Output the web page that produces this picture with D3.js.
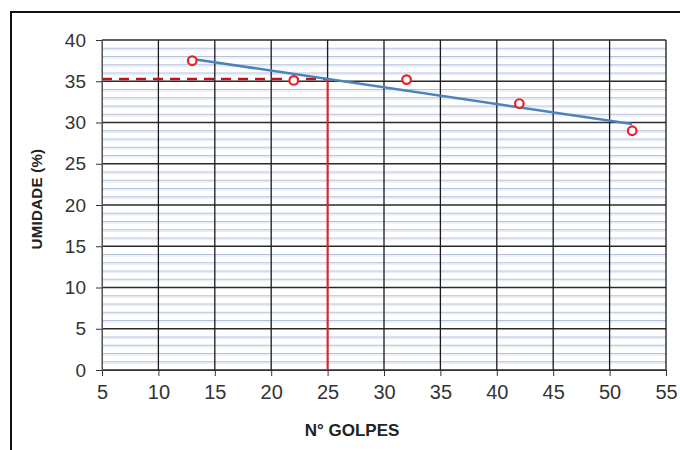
<!DOCTYPE html>
<head>
<meta charset="utf-8">
<style>
body { margin: 0; background: #fff; }
svg { display: block; }
.tick text { font-family: Arial, "Liberation Sans", sans-serif; fill: #333; }
.axisTitle { font-family: Arial, "Liberation Sans", sans-serif; font-weight: bold; fill: #222; }
</style>
</head>
<body>
<svg width="680" height="450"></svg>
<script src="https://d3js.org/d3.v7.min.js"></script>
<script>
// data
var golpes = [13, 22, 32, 42, 52];
var umidade = [37.5, 35.1, 35.2, 32.3, 29.0];
var xTicks = [5, 10, 15, 20, 25, 30, 35, 40, 45, 50, 55];
var yTicks = [0, 5, 10, 15, 20, 25, 30, 35, 40];
var nGolpesRef = 25;

var svg = d3.select("svg");

// frame round the figure
svg.append("rect")
    .attr("x", 11).attr("y", 12)
    .attr("width", 690).attr("height", 460)
    .attr("fill", "none").attr("stroke", "#111").attr("stroke-width", 2);

var x = d3.scaleLinear().domain([5, 55]).range([102, 666]);
var y = d3.scaleLinear().domain([0, 40]).range([370, 40]);

var g = svg.append("g");

// minor horizontal grid, every 1 %
var minor = d3.range(1, 40).filter(function(v) { return v % 5 !== 0; });
g.selectAll(".minorB").data(minor).enter().append("line")
    .attr("x1", x(5)).attr("x2", x(55))
    .attr("y1", function(d) { return y(d) + 1.5; }).attr("y2", function(d) { return y(d) + 1.5; })
    .attr("stroke", "#e6eef9").attr("stroke-width", 1.5);
g.selectAll(".minor").data(minor).enter().append("line")
    .attr("x1", x(5)).attr("x2", x(55))
    .attr("y1", function(d) { return y(d); }).attr("y2", function(d) { return y(d); })
    .attr("stroke", "#b6c1d6").attr("stroke-width", 1);

// major grid
g.selectAll(".hmaj").data(yTicks).enter().append("line")
    .attr("x1", x(5)).attr("x2", x(55))
    .attr("y1", function(d) { return y(d); }).attr("y2", function(d) { return y(d); })
    .attr("stroke", "#2a2a2a").attr("stroke-width", 1.3);
g.selectAll(".vmaj").data(xTicks).enter().append("line")
    .attr("x1", function(d) { return x(d); }).attr("x2", function(d) { return x(d); })
    .attr("y1", y(40)).attr("y2", y(0))
    .attr("stroke", function(d) { return d === 5 ? "#777" : "#1a1a1a"; }).attr("stroke-width", 1.3);

// axes
var xAxis = svg.append("g")
    .attr("transform", "translate(0," + y(0) + ")")
    .call(d3.axisBottom(x).tickValues(xTicks).tickSize(6).tickPadding(9));
xAxis.select(".domain").attr("stroke", "#333");
xAxis.selectAll(".tick line").attr("stroke", "#333");
xAxis.selectAll(".tick text").style("font-size", "20px");

var yAxis = svg.append("g")
    .attr("transform", "translate(" + x(5) + ",0)")
    .call(d3.axisLeft(y).tickValues(yTicks).tickSize(6).tickPadding(10));
yAxis.select(".domain").attr("stroke", "#555");
yAxis.selectAll(".tick line").attr("stroke", "#333");
yAxis.selectAll(".tick text").style("font-size", "19px");

// linear trend (least squares through the points)
var mx = d3.mean(golpes), my = d3.mean(umidade);
var sxy = d3.sum(golpes, function(v, i) { return (v - mx) * (umidade[i] - my); });
var sxx = d3.sum(golpes, function(v) { return (v - mx) * (v - mx); });
var slope = sxy / sxx, icpt = my - slope * mx;
function trend(v) { return icpt + slope * v; }

var wRef = trend(nGolpesRef);

// reference lines at 25 golpes
g.append("line")
    .attr("x1", x(nGolpesRef)).attr("x2", x(nGolpesRef))
    .attr("y1", y(wRef)).attr("y2", y(0))
    .attr("stroke", "#e8202a").attr("stroke-width", 2);
g.append("line")
    .attr("x1", x(5)).attr("x2", x(nGolpesRef))
    .attr("y1", y(wRef)).attr("y2", y(wRef))
    .attr("stroke", "#c8101c").attr("stroke-width", 2.5)
    .attr("stroke-dasharray", "10,7");

var ext = d3.extent(golpes);
g.append("line")
    .attr("x1", x(ext[0])).attr("x2", x(ext[1]))
    .attr("y1", y(trend(ext[0]))).attr("y2", y(trend(ext[1])))
    .attr("stroke", "#4f81bd").attr("stroke-width", 2.5);

g.selectAll(".pt").data(golpes).enter().append("circle")
    .attr("cx", function(d) { return x(d); })
    .attr("cy", function(d, i) { return y(umidade[i]); })
    .attr("r", 4.3)
    .attr("fill", "#fff").attr("stroke", "#e8202a").attr("stroke-width", 2.2);

// titles
svg.append("text").attr("class", "axisTitle")
    .attr("x", 352).attr("y", 436).attr("text-anchor", "middle")
    .style("font-size", "17px")
    .text("N° GOLPES");
svg.append("text").attr("class", "axisTitle")
    .attr("transform", "translate(42,199) rotate(-90)")
    .attr("text-anchor", "middle")
    .style("font-size", "15px").style("letter-spacing", "0.3px")
    .text("UMIDADE (%)");
</script>
</body>
